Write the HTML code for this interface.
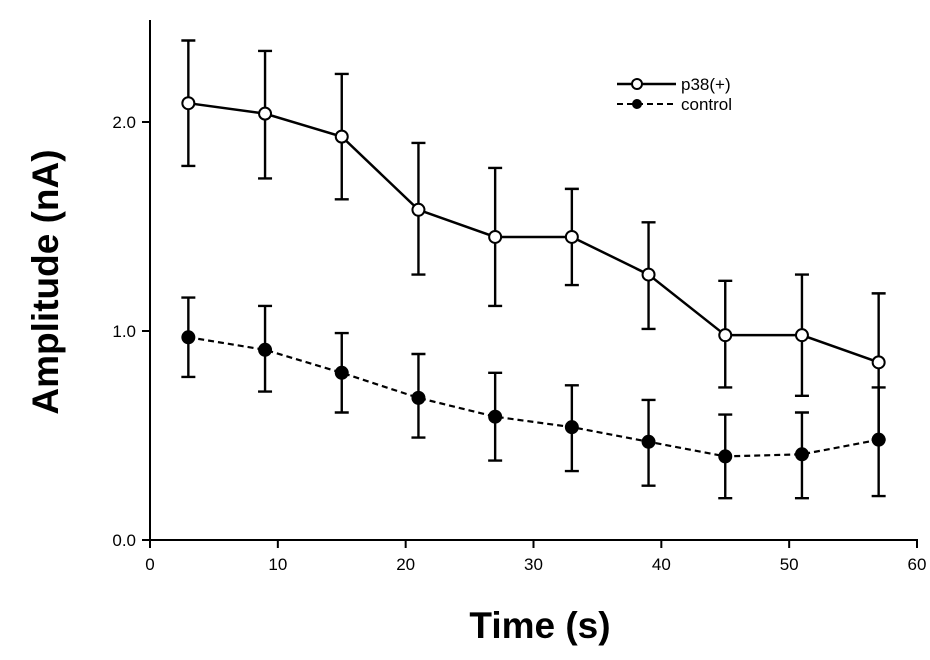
<!DOCTYPE html>
<html><head><meta charset="utf-8"><style>
html,body{margin:0;padding:0;background:#fff;}
svg{display:block;font-family:"Liberation Sans",sans-serif;}
</style></head><body>
<svg id="chart" width="930" height="660" viewBox="0 0 930 660" xmlns="http://www.w3.org/2000/svg">
<g id="axes"></g>
<g id="series"></g>
<g>
  <line x1="617" y1="84" x2="676" y2="84" stroke="#000" stroke-width="2.5"/>
  <circle cx="637" cy="84" r="5" fill="#fff" stroke="#000" stroke-width="2"/>
  <text x="681" y="90" font-size="17">p38(+)</text>
  <line x1="617" y1="104" x2="676" y2="104" stroke="#000" stroke-width="2" stroke-dasharray="6,4"/>
  <circle cx="637" cy="104" r="5" fill="#000"/>
  <text x="681" y="110" font-size="17">control</text>
</g>
<text transform="translate(58,282) rotate(-90)" text-anchor="middle" font-size="37" font-weight="bold">Amplitude (nA)</text>
<text x="540" y="638" text-anchor="middle" font-size="37" font-weight="bold">Time (s)</text>
</svg>
<script>
const times = [3,9,15,21,27,33,39,45,51,57];
const p38Values = [2.09,2.04,1.93,1.58,1.45,1.45,1.27,0.98,0.98,0.85];
const p38Upper = [2.39,2.34,2.23,1.90,1.78,1.68,1.52,1.24,1.27,1.18];
const p38Lower = [1.79,1.73,1.63,1.27,1.12,1.22,1.01,0.73,0.69,0.48];
const controlValues = [0.97,0.91,0.80,0.68,0.59,0.54,0.47,0.40,0.41,0.48];
const controlUpper = [1.16,1.12,0.99,0.89,0.80,0.74,0.67,0.60,0.61,0.73];
const controlLower = [0.78,0.71,0.61,0.49,0.38,0.33,0.26,0.20,0.20,0.21];
const xTicks = [0,10,20,30,40,50,60];
const yTicks = [0,1,2];
const yTickLabels = ["0.0","1.0","2.0"];

const NS="http://www.w3.org/2000/svg";
const xs = v => 150 + v*(917-150)/60;
const ys = v => 540 - v*209;
function mk(tag, attrs, parent){const e=document.createElementNS(NS,tag);for(const k in attrs)e.setAttribute(k,attrs[k]);parent.appendChild(e);return e;}
const axes=document.getElementById('axes'), series=document.getElementById('series');

let a=mk('line',{x1:150,y1:20,x2:150,y2:541,stroke:'#000','stroke-width':2},axes);


a=mk('line',{x1:149,y1:540,x2:918,y2:540,stroke:'#000','stroke-width':2},axes);


xTicks.forEach(t=>{
  const l=mk('line',{x1:xs(t),y1:540,x2:xs(t),y2:548,stroke:'#000','stroke-width':2},axes);
  
  
  const tx=mk('text',{x:xs(t),y:570,'text-anchor':'middle','font-size':17},axes);
  tx.textContent=t;
  
  
});
yTicks.forEach((t,i)=>{
  const l=mk('line',{x1:142,y1:ys(t),x2:150,y2:ys(t),stroke:'#000','stroke-width':2},axes);
  
  
  const tx=mk('text',{x:136,y:ys(t)+6,'text-anchor':'end','font-size':17},axes);
  tx.textContent=yTickLabels[i];
  
  
});
function drawSeries(vals,up,lo,name,dash,filled){
  const g=mk('g',{},series);
  
  
  times.forEach((t,i)=>{
    const x=xs(t);
    const e=mk('path',{d:`M${x},${ys(up[i])}V${ys(lo[i])}M${x-7},${ys(up[i])}H${x+7}M${x-7},${ys(lo[i])}H${x+7}`,stroke:'#000','stroke-width':2.4,fill:'none'},g);
    
    
  });
  const ln=mk('polyline',{points:times.map((t,i)=>xs(t)+','+ys(vals[i])).join(' '),fill:'none',stroke:'#000','stroke-width':dash?2.2:2.5,'stroke-dasharray':dash?'6,4':'none'},g);
  
  
  times.forEach((t,i)=>{
    const c=mk('circle',{cx:xs(t),cy:ys(vals[i]),r:6,fill:filled?'#000':'#fff',stroke:'#000','stroke-width':2},g);
    
    
  });
}
drawSeries(p38Values,p38Upper,p38Lower,'p38',false,false);
drawSeries(controlValues,controlUpper,controlLower,'control',true,true);
</script>
</body></html>
